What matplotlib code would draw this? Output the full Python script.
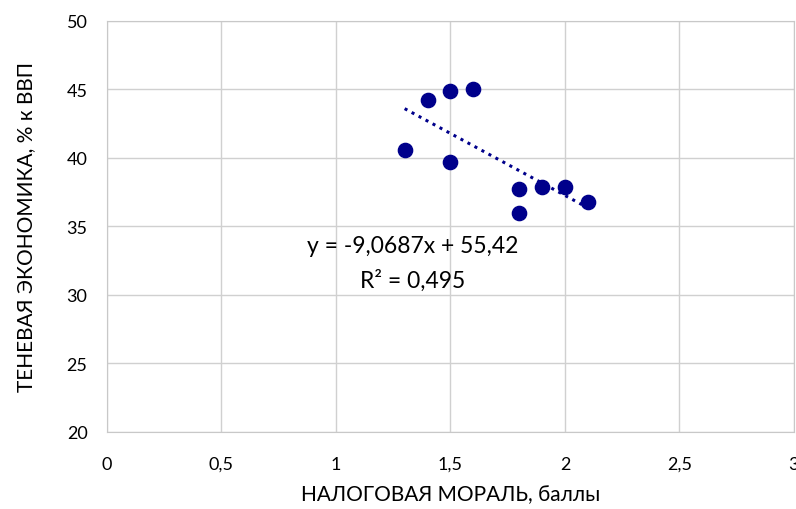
import numpy as np
import matplotlib
matplotlib.use('Agg')
from matplotlib import pyplot as plt

# налоговая мораль (баллы) и теневая экономика (% к ВВП)
moral = [1.3, 1.4, 1.5, 1.6, 1.5, 1.8, 1.8, 1.9, 2.0, 2.1]
shadow = [40.6, 44.2, 44.9, 45.0, 39.7, 37.7, 36.0, 37.9, 37.9, 36.8]
eq_text = "y = -9,0687x + 55,42"
r2_text = "R² = 0,495"

plt.rcParams['font.family'] = ['Lato', 'DejaVu Sans']

fig = plt.figure(figsize=(7.96, 5.10), dpi=100)
ax = fig.add_axes([0.1344, 0.151, 0.863, 0.806])

ax.scatter(moral, shadow, s=105, color='#00008B', zorder=3)

k, b = np.polyfit(moral, shadow, 1)
xs = np.array([min(moral), max(moral)])
ax.plot(xs, k * xs + b, color='#00008B', lw=2.2, linestyle=(0, (1, 1.6)), zorder=2)

ax.text(1.336, 33.6, eq_text, ha='center', va='center', fontsize=16.5)
ax.text(1.336, 31.1, r2_text, ha='center', va='center', fontsize=16.5)

ax.set_xlim(0, 3)
ax.set_ylim(20, 50)
ax.set_xticks(np.arange(0, 3.01, 0.5))
ax.set_xticklabels(['0', '0,5', '1', '1,5', '2', '2,5', '3'])
ax.set_yticks(range(20, 51, 5))
ax.grid(True, color='#d0d0d0', lw=1)
ax.set_axisbelow(True)
for s in ax.spines.values():
    s.set_color('#c8c8c8')
ax.tick_params(length=0, labelsize=13, pad=14)
ax.tick_params(axis='x', pad=17)

ax.set_xlabel('НАЛОГОВАЯ МОРАЛЬ, баллы', fontsize=15, labelpad=9)
ax.set_ylabel('ТЕНЕВАЯ ЭКОНОМИКА, % к ВВП', fontsize=15, labelpad=22)

plt.savefig('out.png')
